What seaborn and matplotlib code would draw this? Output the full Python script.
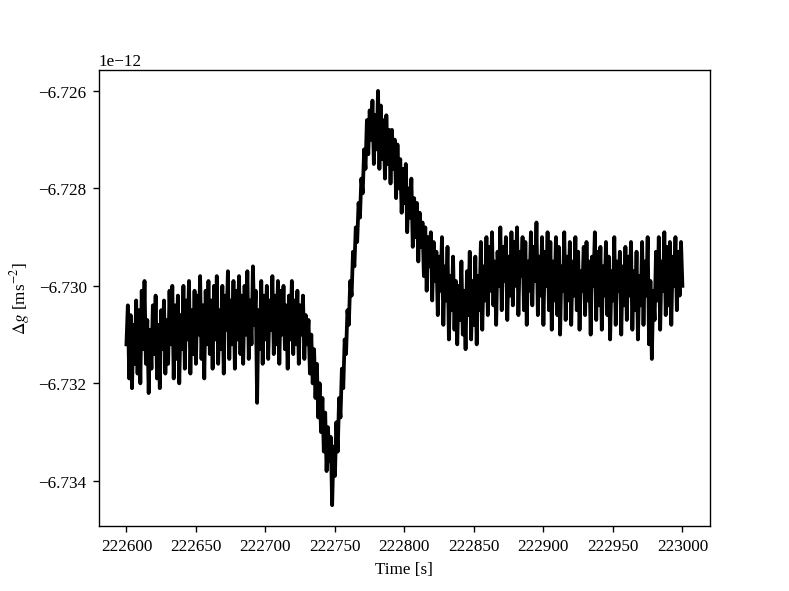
import numpy as np
import pandas as pd
import matplotlib
matplotlib.use('Agg')
import matplotlib.pyplot as plt
import seaborn as sns

plt.rcParams['font.family'] = ['Liberation Serif', 'DejaVu Serif']
plt.rcParams['mathtext.fontset'] = 'stix'

# sampling times [s], 1 s step
time = np.arange(222600, 223001, 1)

# gravity change, units of 1e-12 m/s^2, one row = 10 s
dg = [
    -6.7312, -6.7304, -6.7319, -6.7306, -6.7321, -6.7308, -6.7316, -6.7303, -6.7318, -6.7305,
    -6.7320, -6.7301, -6.7313, -6.7299, -6.7316, -6.7307, -6.7322, -6.7309, -6.7317, -6.7304,
    -6.7314, -6.7302, -6.7319, -6.7308, -6.7321, -6.7305, -6.7313, -6.7303, -6.7318, -6.7307,
    -6.7316, -6.7301, -6.7312, -6.7300, -6.7319, -6.7304, -6.7315, -6.7302, -6.7320, -6.7306,
    -6.7313, -6.7300, -6.7317, -6.7303, -6.7311, -6.7299, -6.7318, -6.7305, -6.7314, -6.7301,
    -6.7316, -6.7302, -6.7310, -6.7298, -6.7315, -6.7304, -6.7319, -6.7301, -6.7312, -6.7299,
    -6.7314, -6.7303, -6.7317, -6.7300, -6.7311, -6.7298, -6.7316, -6.7305, -6.7313, -6.7300,
    -6.7318, -6.7302, -6.7309, -6.7297, -6.7315, -6.7303, -6.7312, -6.7299, -6.7317, -6.7301,
    -6.7311, -6.7298, -6.7314, -6.7302, -6.7316, -6.7300, -6.7310, -6.7297, -6.7315, -6.7303,
    -6.7312, -6.7296, -6.7308, -6.7301, -6.7324, -6.7305, -6.7313, -6.7299, -6.7316, -6.7302,
    -6.7311, -6.7300, -6.7315, -6.7303, -6.7309, -6.7298, -6.7314, -6.7302, -6.7312, -6.7299,
    -6.7316, -6.7301, -6.7310, -6.7300, -6.7313, -6.7304, -6.7317, -6.7302, -6.7311, -6.7299,
    -6.7314, -6.7303, -6.7312, -6.7301, -6.7316, -6.7304, -6.7310, -6.7302, -6.7315, -6.7306,
    -6.7312, -6.7307, -6.7318, -6.7310, -6.7320, -6.7313, -6.7323, -6.7316, -6.7327, -6.7320,
    -6.7330, -6.7323, -6.7334, -6.7326, -6.7338, -6.7329, -6.7336, -6.7331, -6.7345, -6.7333,
    -6.7339, -6.7328, -6.7334, -6.7323, -6.7327, -6.7317, -6.7321, -6.7311, -6.7314, -6.7305,
    -6.7308, -6.7299, -6.7302, -6.7293, -6.7296, -6.7288, -6.7291, -6.7283, -6.7286, -6.7278,
    -6.7281, -6.7272, -6.7276, -6.7266, -6.7273, -6.7264, -6.7270, -6.7262, -6.7275, -6.7265,
    -6.7272, -6.7260, -6.7276, -6.7263, -6.7274, -6.7266, -6.7278, -6.7265, -6.7275, -6.7268,
    -6.7279, -6.7268, -6.7276, -6.7270, -6.7282, -6.7271, -6.7280, -6.7274, -6.7285, -6.7276,
    -6.7283, -6.7275, -6.7289, -6.7280, -6.7286, -6.7278, -6.7292, -6.7282, -6.7290, -6.7283,
    -6.7295, -6.7285, -6.7292, -6.7287, -6.7298, -6.7288, -6.7301, -6.7290, -6.7296, -6.7289,
    -6.7303, -6.7291, -6.7299, -6.7293, -6.7306, -6.7294, -6.7301, -6.7290, -6.7308, -6.7296,
    -6.7303, -6.7292, -6.7311, -6.7298, -6.7305, -6.7294, -6.7309, -6.7299, -6.7312, -6.7300,
    -6.7307, -6.7295, -6.7310, -6.7301, -6.7313, -6.7297, -6.7306, -6.7293, -6.7311, -6.7299,
    -6.7308, -6.7294, -6.7312, -6.7298, -6.7305, -6.7291, -6.7309, -6.7296, -6.7303, -6.7290,
    -6.7306, -6.7292, -6.7301, -6.7289, -6.7304, -6.7295, -6.7308, -6.7293, -6.7300, -6.7288,
    -6.7305, -6.7292, -6.7299, -6.7290, -6.7307, -6.7294, -6.7302, -6.7289, -6.7304, -6.7291,
    -6.7300, -6.7288, -6.7306, -6.7293, -6.7298, -6.7290, -6.7305, -6.7291, -6.7308, -6.7295,
    -6.7301, -6.7289, -6.7304, -6.7292, -6.7299, -6.7287, -6.7306, -6.7294, -6.7302, -6.7290,
    -6.7308, -6.7293, -6.7300, -6.7289, -6.7305, -6.7291, -6.7309, -6.7295, -6.7303, -6.7290,
    -6.7306, -6.7292, -6.7310, -6.7296, -6.7301, -6.7289, -6.7307, -6.7294, -6.7303, -6.7291,
    -6.7308, -6.7295, -6.7302, -6.7290, -6.7305, -6.7293, -6.7309, -6.7297, -6.7301, -6.7292,
    -6.7306, -6.7291, -6.7303, -6.7295, -6.7310, -6.7294, -6.7300, -6.7289, -6.7307, -6.7293,
    -6.7304, -6.7292, -6.7309, -6.7296, -6.7302, -6.7291, -6.7306, -6.7294, -6.7311, -6.7297,
    -6.7303, -6.7290, -6.7308, -6.7295, -6.7301, -6.7293, -6.7310, -6.7296, -6.7304, -6.7292,
    -6.7307, -6.7294, -6.7302, -6.7291, -6.7309, -6.7297, -6.7305, -6.7293, -6.7311, -6.7298,
    -6.7304, -6.7291, -6.7308, -6.7295, -6.7302, -6.7290, -6.7312, -6.7299, -6.7315, -6.7301,
    -6.7307, -6.7293, -6.7303, -6.7290, -6.7309, -6.7295, -6.7301, -6.7289, -6.7306, -6.7292,
    -6.7304, -6.7291, -6.7308, -6.7294, -6.7300, -6.7290, -6.7305, -6.7293, -6.7302, -6.7291,
    -6.7300,
]

df = pd.DataFrame({'t': time, 'dg': np.array(dg) * 1e-12})

fig, ax = plt.subplots(figsize=(6.4, 4.8), dpi=123.3)
sns.lineplot(data=df, x='t', y='dg', color='black', linewidth=2.2, ax=ax)
ax.set_xlabel('Time [s]')
ax.set_ylabel(r'$\Delta g$ [ms$^{-2}$]')
ax.set_xticks([222600, 222650, 222700, 222750, 222800, 222850, 222900, 222950, 223000])

fig.savefig('out.png', dpi=123.3)
